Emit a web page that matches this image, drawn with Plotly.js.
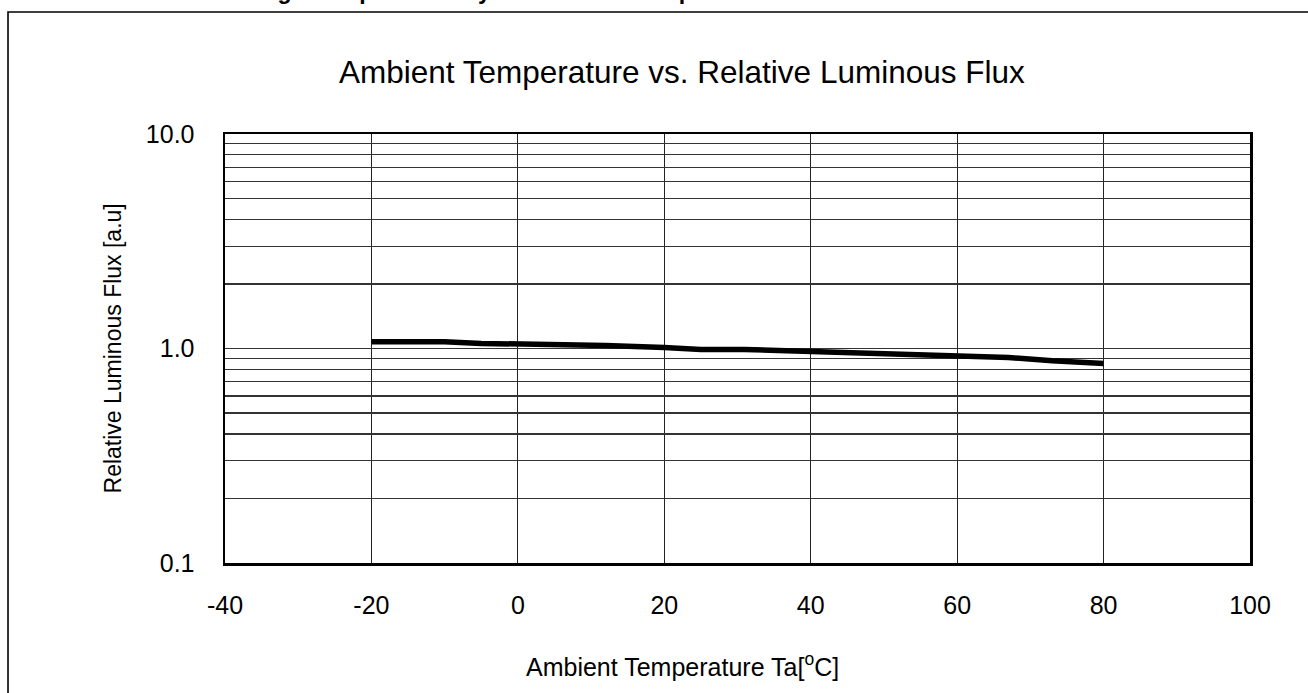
<!DOCTYPE html>
<html>
<head>
<meta charset="utf-8">
<script src="https://cdn.plot.ly/plotly-3.0.1.min.js"></script>
<style>html,body{margin:0;padding:0;background:#fff;}#chart{width:1308px;height:693px;}</style>
</head>
<body>
<div id="chart"></div>
<script>
// Data
const temperature = [-20, -10, -5, 0, 5, 12, 20, 25, 31, 37, 43, 50, 60, 67, 73, 80];
const relativeFlux = [1.074, 1.074, 1.056, 1.053, 1.037, 1.033, 1.011, 0.990, 0.990, 0.975, 0.970, 0.954, 0.931, 0.909, 0.876, 0.852];

// Tick labels
const xTickVals = [-40, -20, 0, 20, 40, 60, 80, 100];
const xTickText = ['-40', '-20', '0', '20', '40', '60', '80', '100'];
const yGridVals = [0.1, 0.2, 0.3, 0.4, 0.5, 0.6, 0.7, 0.8, 0.9, 1, 2, 3, 4, 5, 6, 7, 8, 9, 10];
const yLabelMap = {0.1: '0.1', 1: '1.0', 10: '10.0'};
const yTickText = yGridVals.map(v => yLabelMap[v] || '');

const chartTitle = 'Ambient Temperature vs. Relative Luminous Flux';
const xTitle = 'Ambient Temperature Ta[<sup>o</sup>C]';
const yTitle = 'Relative Luminous Flux [a.u]';
const headingText = 'Light Output Stability vs. Ambient Temperature';

const FONT = 'Liberation Sans, Arial, sans-serif';

const trace = {
  x: temperature,
  y: relativeFlux,
  type: 'scatter',
  mode: 'lines',
  line: {color: '#000', width: 5.5, shape: 'linear'},
  hoverinfo: 'skip'
};

const layout = {
  width: 1308,
  height: 693,
  margin: {l: 225, r: 58, t: 134, b: 130},
  paper_bgcolor: '#fff',
  plot_bgcolor: '#fff',
  showlegend: false,
  font: {family: FONT, color: '#000'},
  xaxis: {
    range: [-40, 100],
    tickmode: 'array',
    tickvals: xTickVals,
    ticktext: xTickText,
    showgrid: true,
    gridcolor: '#222',
    gridwidth: 1,
    zeroline: false,
    showline: true,
    mirror: true,
    linecolor: '#000',
    linewidth: 2.5,
    ticks: '',
    ticklabelstandoff: 18,
    tickfont: {family: FONT, size: 25, color: '#000'}
  },
  yaxis: {
    type: 'log',
    range: [-1, 1],
    tickmode: 'array',
    tickvals: yGridVals,
    ticktext: yTickText,
    showgrid: true,
    gridcolor: '#333',
    gridwidth: 1.3,
    zeroline: false,
    showline: true,
    mirror: true,
    linecolor: '#000',
    linewidth: 2.5,
    ticks: '',
    ticklabelstandoff: 23,
    tickfont: {family: FONT, size: 25, color: '#000'}
  },
  annotations: [
    {text: chartTitle, xref: 'paper', yref: 'paper', x: 0.4463, y: 1.1445,
     xanchor: 'center', yanchor: 'middle', showarrow: false,
     font: {family: FONT, size: 31.5, color: '#000'}},
    {text: xTitle, xref: 'paper', yref: 'paper', x: 0.4463, y: -0.237,
     xanchor: 'center', yanchor: 'middle', showarrow: false,
     font: {family: FONT, size: 25, color: '#000'}},
    {text: yTitle, xref: 'paper', yref: 'paper', x: -0.1093, y: 0.5,
     xanchor: 'center', yanchor: 'middle', textangle: -90, showarrow: false,
     font: {family: FONT, size: 23, color: '#000'}},
    {text: '<b>' + headingText + '</b>', xref: 'paper', yref: 'paper', x: 0.0293, y: 1.2984,
     xanchor: 'left', yanchor: 'bottom', showarrow: false,
     font: {family: FONT, size: 23, color: '#000'}}
  ],
  shapes: [
    {type: 'rect', xref: 'paper', yref: 'paper', x0: -0.2117, x1: 1.3, y0: -0.6, y1: 1.2844,
     line: {color: '#000', width: 1.6}, fillcolor: 'rgba(0,0,0,0)', layer: 'below'}
  ]
};

Plotly.newPlot('chart', [trace], layout, {staticPlot: true, displayModeBar: false});
</script>
</body>
</html>
